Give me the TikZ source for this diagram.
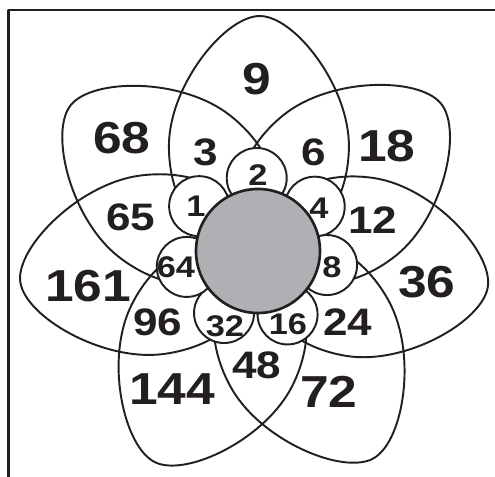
\documentclass[tikz,border=0pt]{standalone}
\usepackage{fontspec}
\setmainfont{Liberation Sans}[FakeStretch=1.15]
\usepackage{tikz}
\definecolor{ink}{HTML}{231F20}
\definecolor{disc}{HTML}{AFB0B4}

\begin{document}
\begin{tikzpicture}[x=0.02cm, y=0.02cm, line join=round,
  petal/.style={draw=ink, line width=1.1pt},
  bud/.style={fill=white, draw=ink, line width=1.1pt},
  bignum/.style={font=\fontsize{25.5}{26}\selectfont\bfseries, text=ink},
  midnum/.style={font=\fontsize{21.8}{22}\selectfont\bfseries, text=ink},
  budnum/.style={font=\fontsize{17}{17}\selectfont\bfseries, text=ink}]
  \useasboundingbox (-258,-226) rectangle (237,251);
  % Frame
  \draw[ink, line width=1.4pt] (237,241) -- (-249.5,241) -- (-249.5,-226);
  % Petals
  \foreach \a/\s in {89.5/1.0, 38.8/1.0, -8.9/0.99, -60.9/1.01, -116/1.0, 187.4/1.02, 142.2/1.01}
    \draw[petal, rotate=\a, xscale=\s] (235,0) .. controls (235,35) and (165,90) .. (105,90)
      .. controls (50,90) and (0,60) .. (0,0) .. controls (0,-60) and (50,-90) .. (105,-90)
      .. controls (165,-90) and (235,-35) .. cycle;
  % Buds
  \foreach \a/\r in {91/73, 38/72, -11.5/70.5, -65/70, -118.7/70.7, 192.6/73, 142.7/74}
    \draw[bud] (\a:\r) circle [radius=30];
  \draw[fill=disc, draw=ink, line width=1.5pt] (0,0) circle [radius=62];
  % Outer numbers
  \node[bignum] (n9) at (-1,172) {9};
  \node[bignum] (n18) at (129,105) {18};
  \node[bignum] (n36) at (169,-31) {36};
  \node[bignum] (n72) at (71,-141) {72};
  \node[bignum] (n144) at (-86,-138) {144};
  \node[bignum] (n161) at (-170,-35) {161};
  \node[bignum] (n68) at (-136,113) {68};
  % Middle numbers
  \node[midnum] (n3) at (-52,99) {3};
  \node[midnum] (n6) at (56,99) {6};
  \node[midnum] (n12) at (115,31) {12};
  \node[midnum] (n24) at (90,-71) {24};
  \node[midnum] (n48) at (-1,-114) {48};
  \node[midnum] (n96) at (-100,-71) {96};
  \node[midnum] (n65) at (-127,34) {65};
  % Bud numbers
  \node[budnum] (n2) at (0,76) {2};
  \node[budnum] (n4) at (61,43) {4};
  \node[budnum] (n8) at (74,-16) {8};
  \node[budnum] (n16) at (30,-73) {16};
  \node[budnum] (n32) at (-33,-75) {32};
  \node[budnum] (n64) at (-82,-16) {64};
  \node[budnum] (n1) at (-62,45) {1};
\end{tikzpicture}
\end{document}
